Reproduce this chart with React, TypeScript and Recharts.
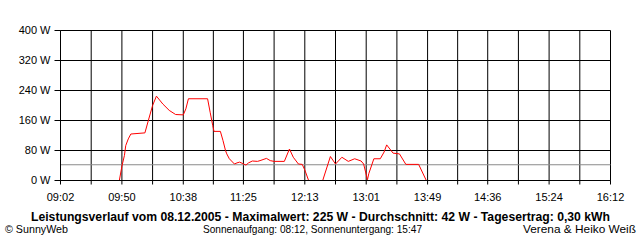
import React from "react";
import { LineChart, Line, XAxis, YAxis, CartesianGrid, ReferenceLine } from "recharts";

const times = [
  "09:48", "09:50", "09:52", "09:53", "09:55", "09:57", "10:08", "10:11", "10:14", "10:17",
  "10:22", "10:27", "10:32", "10:38", "10:40", "10:42", "10:57", "10:59", "11:01", "11:02",
  "11:07", "11:09", "11:11", "11:12", "11:14", "11:18", "11:20", "11:22", "11:24", "11:27",
  "11:29", "11:32", "11:36", "11:38", "11:43", "11:46", "11:49", "11:57", "12:01", "12:04",
  "12:08", "12:11", "12:13", "12:16", "12:27", "12:33", "12:37", "12:42", "12:47", "12:52",
  "12:57", "12:59", "13:02", "13:03", "13:07", "13:12", "13:15", "13:17", "13:22", "13:27",
  "13:32", "13:42", "13:48",
];
const watts = [
  0, 38, 67, 93, 111, 124, 127, 164, 200, 225,
  204, 187, 176, 175, 191, 218, 218, 182, 147, 131,
  131, 107, 80, 71, 58, 44, 47, 49, 46, 41,
  47, 52, 51, 53, 59, 53, 51, 51, 84, 62,
  44, 43, 28, 0, 0, 64, 44, 62, 51, 58,
  52, 44, 2, 18, 58, 58, 76, 95, 73, 71,
  43, 43, 0,
];
const xTickLabels = ["09:02", "09:50", "10:38", "11:25", "12:13", "13:01", "13:49", "14:36", "15:24", "16:12"];
const yTicks = [0, 80, 160, 240, 320, 400];
const average = 42;
const title = "Leistungsverlauf vom 08.12.2005 - Maximalwert: 225 W - Durchschnitt: 42 W - Tagesertrag: 0,30 kWh";
const footLeft = "\u00A9 SunnyWeb";
const footMid = "Sonnenaufgang: 08:12, Sonnenuntergang: 15:47";
const footRight = "Verena & Heiko Wei\u00DF";

const toMin = (s: string) => {
  const [h, m] = s.split(":").map(Number);
  return h * 60 + m;
};

const data = times.map((t, i) => ({ t: toMin(t), w: watts[i] }));
const labelMins = xTickLabels.map(toMin);
const allTicks: number[] = [];
labelMins.forEach((m, i) => {
  allTicks.push(m);
  if (i < labelMins.length - 1) allTicks.push((m + labelMins[i + 1]) / 2);
});
const labelMap = new Map<number, string>(labelMins.map((m, i) => [m, xTickLabels[i]]));

const FONT = "'Liberation Sans', Arial, sans-serif";

export default function App() {
  return (
    <div style={{ position: "absolute", left: 0, top: 0, width: 640, height: 240, background: "#fff" }}>
      <LineChart
        width={640}
        height={240}
        data={data}
        margin={{ top: 30.5, right: 29.5, bottom: 29.5, left: 0.5 }}
      >
        <CartesianGrid stroke="#000" strokeWidth={1} />
        <XAxis
          dataKey="t"
          type="number"
          domain={[labelMins[0], labelMins[labelMins.length - 1]]}
          ticks={allTicks}
          interval={0}
          tickFormatter={(v: number) => labelMap.get(v) ?? ""}
          tick={{ fill: "#000", fontSize: 11, fontFamily: FONT }}
          tickLine={{ stroke: "#000" }}
          axisLine={{ stroke: "#000" }}
          tickSize={4}
          tickMargin={9}
          height={30}
        />
        <YAxis
          type="number"
          domain={[0, 400]}
          ticks={yTicks}
          interval={0}
          tickFormatter={(v: number) => `${v} W`}
          tick={{ fill: "#000", fontSize: 11, fontFamily: FONT }}
          tickLine={{ stroke: "#000" }}
          axisLine={{ stroke: "#000" }}
          tickSize={6}
          tickMargin={4}
          width={60}
        />
        <ReferenceLine y={average} stroke="#8a8a8a" strokeWidth={1} ifOverflow="visible" />
        <Line
          type="linear"
          dataKey="w"
          stroke="#ff0000"
          strokeWidth={1}
          dot={false}
          activeDot={false}
          isAnimationActive={false}
        />
      </LineChart>
      <svg
        width={640}
        height={240}
        style={{ position: "absolute", left: 0, top: 0, pointerEvents: "none" }}
      >
        <text x={31} y={221} fontFamily={FONT} fontWeight="bold" fontSize={12} fill="#000"
          textLength={579} lengthAdjust="spacingAndGlyphs">{title}</text>
        <text x={5} y={233} fontFamily={FONT} fontSize={11} fill="#000"
          textLength={63} lengthAdjust="spacingAndGlyphs">{footLeft}</text>
        <text x={203} y={233} fontFamily={FONT} fontSize={11} fill="#000"
          textLength={219} lengthAdjust="spacingAndGlyphs">{footMid}</text>
        <text x={523} y={233} fontFamily={FONT} fontSize={11} fill="#000"
          textLength={113} lengthAdjust="spacingAndGlyphs">{footRight}</text>
      </svg>
    </div>
  );
}
